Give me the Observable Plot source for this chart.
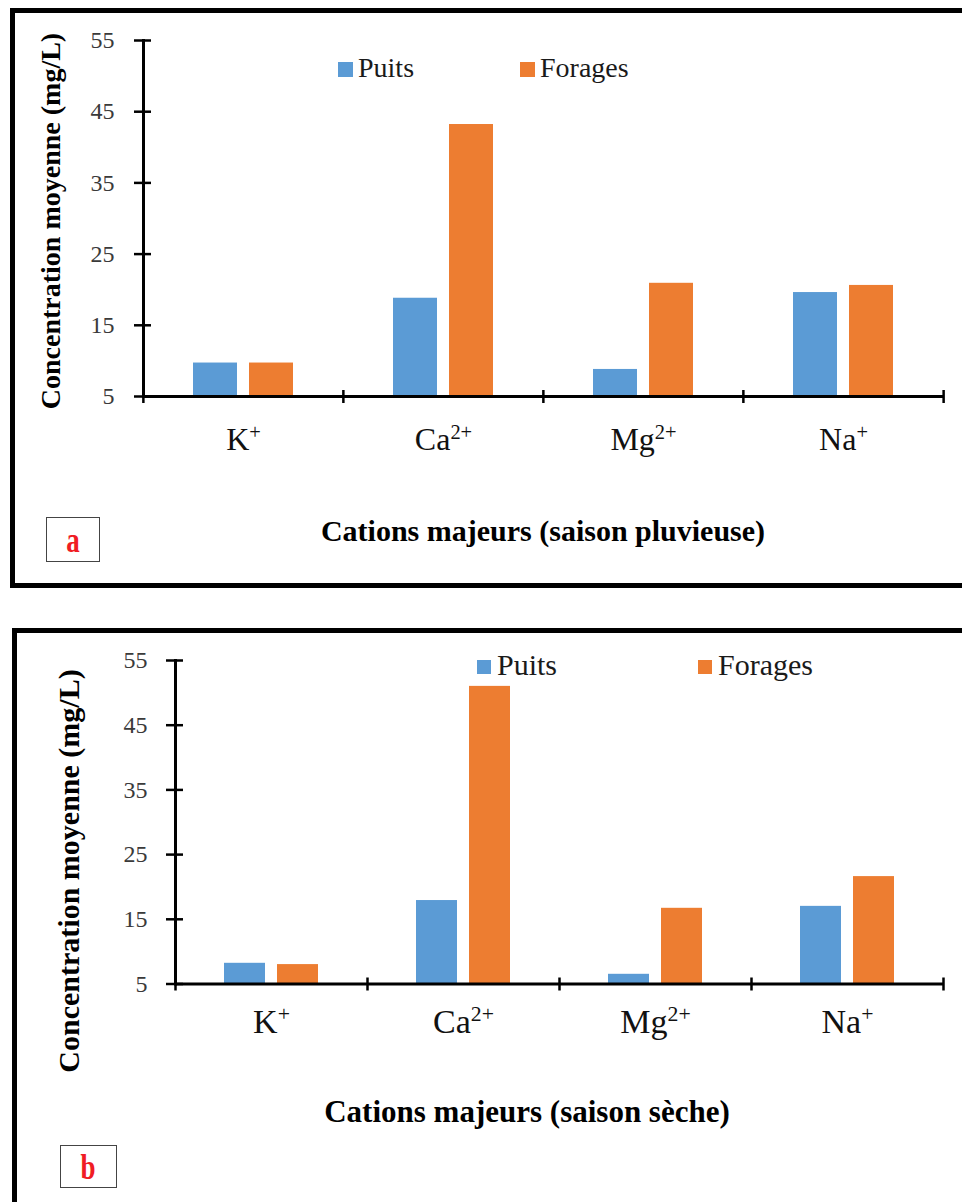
<!DOCTYPE html>
<html>
<head>
<meta charset="utf-8">
<script src="https://cdn.jsdelivr.net/npm/d3@7"></script>
<script src="https://cdn.jsdelivr.net/npm/@observablehq/plot@0.6"></script>
<style>
html, body { margin: 0; padding: 0; background: #fff; overflow: hidden; width: 962px; height: 1202px; position: relative; }
.frame { position: absolute; box-sizing: border-box; border: 5px solid #000; background: #fff; }
.chart { position: absolute; overflow: visible; }
.t { position: absolute; white-space: nowrap; line-height: 1; font-family: "Liberation Serif", "Times New Roman", serif; color: #111; }
.sq { position: absolute; }
.letterbox { position: absolute; box-sizing: border-box; border: 1.5px solid #444; display: flex; align-items: center; justify-content: center; }
.letterbox span { font-family: "Liberation Serif", "Times New Roman", serif; font-weight: bold; color: #f01c24; line-height: 1; }
</style>
</head>
<body>
<script>
// ---------- data ----------
const cations = ["K+", "Ca2+", "Mg2+", "Na+"];
const series = ["Puits", "Forages"];
const puitsPluvieuse   = [9.7, 18.8, 8.8, 19.6];
const foragesPluvieuse = [9.7, 43.2, 20.9, 20.6];
const puitsSeche   = [8.2, 17.9, 6.5, 17.0];
const foragesSeche = [8.0, 51.0, 16.7, 21.6];
const yTicks = [5, 15, 25, 35, 45, 55];
const colors = ["#5B9BD5", "#ED7D31"];
const yLabel = "Concentration moyenne (mg/L)";
const titleA = "Cations majeurs (saison pluvieuse)";
const titleB = "Cations majeurs (saison sèche)";
const letters = ["a", "b"];

const SERIF = "'Liberation Serif', 'Times New Roman', serif";

function el(tag, cls, style, text) {
  const e = document.createElement(tag);
  if (cls) e.className = cls;
  Object.assign(e.style, style || {});
  if (text != null) e.textContent = text;
  document.body.appendChild(e);
  return e;
}
// place text so that its baseline is at y (line-height 1, Liberation Serif metrics)
function textAt(str, x, baseline, size, opts = {}) {
  const e = el("div", "t", {
    left: x + "px", top: (baseline - 0.8375 * size) + "px", fontSize: size + "px",
    fontWeight: opts.bold ? "bold" : "normal", color: opts.color || "#111"
  }, str);
  if (opts.center) e.style.transform = "translateX(-50%)";
  return e;
}

function drawPanel(cfg) {
  el("div", "frame", {left: cfg.frame[0] + "px", top: cfg.frame[1] + "px", width: cfg.frame[2] + "px", height: cfg.frame[3] + "px"});

  const rows = cations.flatMap((c, i) => [
    {cation: c, serie: series[0], value: cfg.puits[i]},
    {cation: c, serie: series[1], value: cfg.forages[i]}
  ]);
  const L = cfg.layout;
  const band = (L.width - L.marginLeft - L.marginRight) / cations.length;
  const yMin = yTicks[0];

  const svg = Plot.plot({
    width: L.width, height: L.height,
    marginLeft: L.marginLeft, marginRight: L.marginRight, marginTop: L.marginTop, marginBottom: L.marginBottom,
    style: {fontFamily: SERIF, background: "transparent", overflow: "visible"},
    fx: {domain: cations, padding: 0},
    x: {domain: series, paddingInner: L.pi, paddingOuter: L.po, axis: null},
    y: {domain: [yMin, yTicks[yTicks.length - 1]]},
    color: {domain: series, range: colors},
    marks: [
      Plot.barY(rows, {fx: "cation", x: "serie", y1: yMin, y2: "value", fill: "serie"}),
      // x axis line
      Plot.ruleY([yMin], {stroke: "#000", strokeWidth: 3}),
      // y axis line (leftmost facet only)
      Plot.frame({anchor: "left", facetAnchor: "left", stroke: "#000", strokeWidth: 3}),
      // y ticks crossing the axis
      Plot.axisY({ticks: yTicks, tickSize: 17, dx: 8, fill: "none", stroke: "#000", strokeWidth: 2.5, label: null}),
      // y tick labels
      Plot.axisY({ticks: yTicks, tickSize: 0, tickPadding: L.yPad, fontSize: L.yFont, fill: "#3a3a3a", label: null, tickFormat: d => d}),
      // category boundary ticks
      Plot.axisFx({anchor: "bottom", tickSize: 13, dy: -6, dx: -band / 2, fill: "none", stroke: "#000", strokeWidth: 2.5, label: null}),
      Plot.axisFx({anchor: "bottom", ticks: [cations[cations.length - 1]], tickSize: 13, dy: -6, dx: band / 2, fill: "none", stroke: "#000", strokeWidth: 2.5, label: null}),
      // category labels
      Plot.axisFx({anchor: "bottom", tickSize: 0, tickPadding: L.fxPad, fontSize: L.catFont, fill: "#111", label: null})
    ]
  });
  svg.classList.add("chart");
  svg.style.left = L.left + "px";
  svg.style.top = L.top + "px";
  document.body.appendChild(svg);

  // superscripts for ion charges
  svg.querySelectorAll('g[aria-label="fx-axis tick label"] text').forEach(t => {
    const m = t.textContent.match(/^([A-Za-z]+)(\d*[+-])$/);
    if (!m) return;
    t.textContent = m[1];
    const ts = document.createElementNS("http://www.w3.org/2000/svg", "tspan");
    ts.setAttribute("dy", String(-L.catFont * 0.36));
    ts.setAttribute("font-size", String(L.catFont * 0.64));
    ts.textContent = m[2];
    t.appendChild(ts);
  });

  // legend
  const G = cfg.legend;
  series.forEach((s, i) => {
    el("div", "sq", {left: G.sqX[i] + "px", top: G.sqY + "px", width: G.sq + "px", height: G.sq + "px", background: colors[i]});
    textAt(s, G.textX[i], G.baseline, G.size, {color: "#1a1a1a"});
  });

  // x title
  textAt(cfg.title, cfg.titlePos[0], cfg.titlePos[1], cfg.titleSize, {bold: true, center: true, color: "#000"});

  // y label
  el("div", "t", {
    left: cfg.yLabelPos[0] + "px", top: cfg.yLabelPos[1] + "px", fontSize: cfg.yLabelSize + "px",
    fontWeight: "bold", color: "#000", transform: "translate(-50%, -50%) rotate(-90deg)"
  }, yLabel);

  // panel letter
  const lb = el("div", "letterbox", {left: cfg.letterBox[0] + "px", top: cfg.letterBox[1] + "px", width: cfg.letterBox[2] + "px", height: cfg.letterBox[3] + "px"});
  const sp = document.createElement("span");
  sp.textContent = cfg.letter;
  sp.style.fontSize = cfg.letterSize + "px";
  sp.style.display = "inline-block";
  sp.style.transform = "scaleX(0.75)";
  lb.appendChild(sp);
}

drawPanel({
  frame: [10, 8, 962, 580],
  puits: puitsPluvieuse, forages: foragesPluvieuse,
  layout: {left: 15, top: 13, width: 945, height: 570, marginLeft: 127, marginRight: 17, marginTop: 27, marginBottom: 187,
           pi: 0.2105, po: 0.862, yPad: 29, yFont: 24, fxPad: 31, catFont: 32},
  legend: {sqX: [338, 520], sqY: 62, sq: 15, textX: [358, 540], baseline: 77, size: 28},
  title: titleA, titlePos: [543, 541], titleSize: 30,
  yLabelPos: [51, 221], yLabelSize: 28,
  letter: letters[0], letterBox: [46, 517, 54, 45], letterSize: 36
});

drawPanel({
  frame: [12, 628, 962, 620],
  puits: puitsSeche, forages: foragesSeche,
  layout: {left: 17, top: 633, width: 943, height: 569, marginLeft: 158, marginRight: 17, marginTop: 27, marginBottom: 218.5,
           pi: 0.2222, po: 0.889, yPad: 28, yFont: 24, fxPad: 25, catFont: 34},
  legend: {sqX: [477, 698], sqY: 660, sq: 14, textX: [497, 718], baseline: 675, size: 30},
  title: titleB, titlePos: [527, 1122], titleSize: 31,
  yLabelPos: [69, 871], yLabelSize: 30,
  letter: letters[1], letterBox: [60, 1145, 57, 43], letterSize: 36
});
</script>
</body>
</html>
